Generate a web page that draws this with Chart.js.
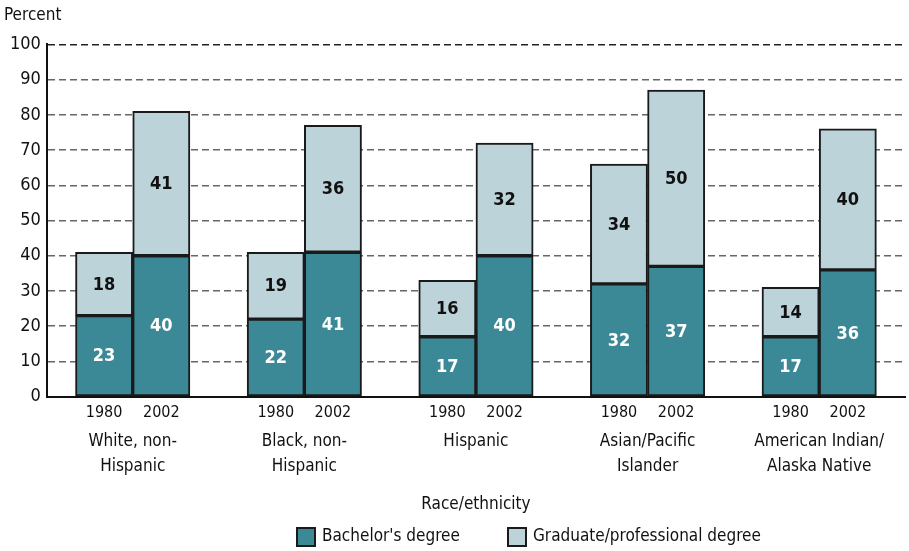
<!DOCTYPE html>
<html>
<head>
<meta charset="utf-8">
<script src="https://cdn.jsdelivr.net/npm/chart.js@4"></script>
<style>
  html, body { margin: 0; padding: 0; background: #fff; }
  #wrap { width: 909px; height: 551px; }
</style>
</head>
<body>
<div id="wrap"><canvas id="chart" width="909" height="551"></canvas></div>
<script>
const groups = [['White, non-', 'Hispanic'], ['Black, non-', 'Hispanic'], 'Hispanic',
    ['Asian/Pacific', 'Islander'], ['American Indian/', 'Alaska Native']];
const years = ['1980', '2002'];
// two values per group: 1980, 2002
const bachelors = [23, 40, 22, 41, 17, 40, 32, 37, 17, 36];
const graduate = [18, 41, 19, 36, 16, 32, 34, 50, 14, 40];
const yTicks = [0, 10, 20, 30, 40, 50, 60, 70, 80, 90, 100];

const FONT = "'DejaVu Sans Condensed', 'Liberation Sans', sans-serif";

// slots: empty edge, then 1980, 2002, gap ... , empty edge
let slotLabels = [''];
let bachSlots = [null];
let gradSlots = [null];
for (let g = 0; g < groups.length; g++) {
    for (let k = 0; k < years.length; k++) {
        slotLabels.push(years[k]);
        bachSlots.push(bachelors[g * 2 + k]);
        gradSlots.push(graduate[g * 2 + k]);
    }
    slotLabels.push('');
    bachSlots.push(null);
    gradSlots.push(null);
}

// numbers inside the bar segments
const barLabels = {
    id: 'barLabels',
    afterDatasetsDraw(chart) {
        const ctx = chart.ctx;
        ctx.save();
        ctx.font = "bold 18px " + FONT;
        ctx.textAlign = 'center';
        ctx.textBaseline = 'middle';
        chart.data.datasets.forEach((ds, i) => {
            const meta = chart.getDatasetMeta(i);
            meta.data.forEach((el, j) => {
                const v = ds.data[j];
                if (v == null) return;
                ctx.fillStyle = i === 0 ? '#ffffff' : '#111111';
                ctx.fillText(String(v), el.x, (el.y + el.base) / 2 + 1);
            });
        });
        ctx.restore();
    }
};

// legend drawn by hand so the spacing can follow the original
const bottomLegend = {
    id: 'bottomLegend',
    afterDraw(chart) {
        const ctx = chart.ctx;
        const xs = [297, 508];
        const y = 537;
        ctx.save();
        ctx.font = "17px " + FONT;
        ctx.textBaseline = 'middle';
        ctx.textAlign = 'left';
        chart.data.datasets.forEach((ds, i) => {
            ctx.fillStyle = ds.backgroundColor;
            ctx.fillRect(xs[i], y - 9, 18, 18);
            ctx.lineWidth = 2;
            ctx.strokeStyle = '#1a1a1a';
            ctx.strokeRect(xs[i], y - 9, 18, 18);
            ctx.fillStyle = '#111';
            ctx.fillText(ds.label, xs[i] + 25, y);
        });
        ctx.restore();
    }
};

new Chart(document.getElementById('chart').getContext('2d'), {
    type: 'bar',
    data: {
        labels: slotLabels,
        datasets: [
            {
                label: "Bachelor's degree",
                data: bachSlots,
                backgroundColor: '#3b8896',
                borderColor: '#1a1a1a',
                borderWidth: 2,
                borderSkipped: false,
            },
            {
                label: 'Graduate/professional degree',
                data: gradSlots,
                backgroundColor: '#bcd3d9',
                borderColor: '#1a1a1a',
                borderWidth: 2,
                borderSkipped: false,
            },
        ],
    },
    options: {
        responsive: false,
        animation: false,
        layout: { padding: { left: 4, right: 4, top: 0, bottom: 36 } },
        datasets: { bar: { barPercentage: 1, categoryPercentage: 1 } },
        scales: {
            x: {
                stacked: true,
                offset: false,
                weight: 0,
                grid: { display: false },
                border: { display: true, color: '#111', width: 2 },
                ticks: { font: { family: FONT, size: 16, lineHeight: 1 }, color: '#111', maxRotation: 0, autoSkip: false, padding: 0 },
            },
            x2: {
                type: 'category',
                labels: groups,
                offset: true,
                position: 'bottom',
                weight: 1,
                grid: { display: false, drawTicks: false },
                border: { display: false },
                ticks: { font: { family: FONT, size: 17, lineHeight: 1.47 }, color: '#111', maxRotation: 0, autoSkip: false, padding: 8 },
                title: { display: true, text: 'Race/ethnicity', font: { family: FONT, size: 17 }, color: '#111', padding: { top: 8, bottom: 0 } },
            },
            y: {
                stacked: true,
                min: 0,
                max: 100,
                afterBuildTicks: (axis) => { axis.ticks = yTicks.map(v => ({ value: v })); },
                grid: {
                    color: (c) => c.tick && c.tick.value === 0 ? 'rgba(0,0,0,0)' : (c.tick && c.tick.value === 100 ? '#222' : '#666'),
                    lineWidth: 1.5,
                    drawTicks: false,
                },
                border: { display: true, color: '#111', width: 2, dash: [7, 4] },
                ticks: { font: { family: FONT, size: 18 }, color: '#111', padding: 6 },
            },
        },
        plugins: {
            title: {
                display: true,
                text: 'Percent',
                align: 'start',
                font: { family: FONT, size: 17, weight: 'normal' },
                color: '#111',
                padding: { top: 5, bottom: 19 },
            },
            legend: { display: false },
            tooltip: { enabled: false },
        },
    },
    plugins: [barLabels, bottomLegend],
});
</script>
</body>
</html>
